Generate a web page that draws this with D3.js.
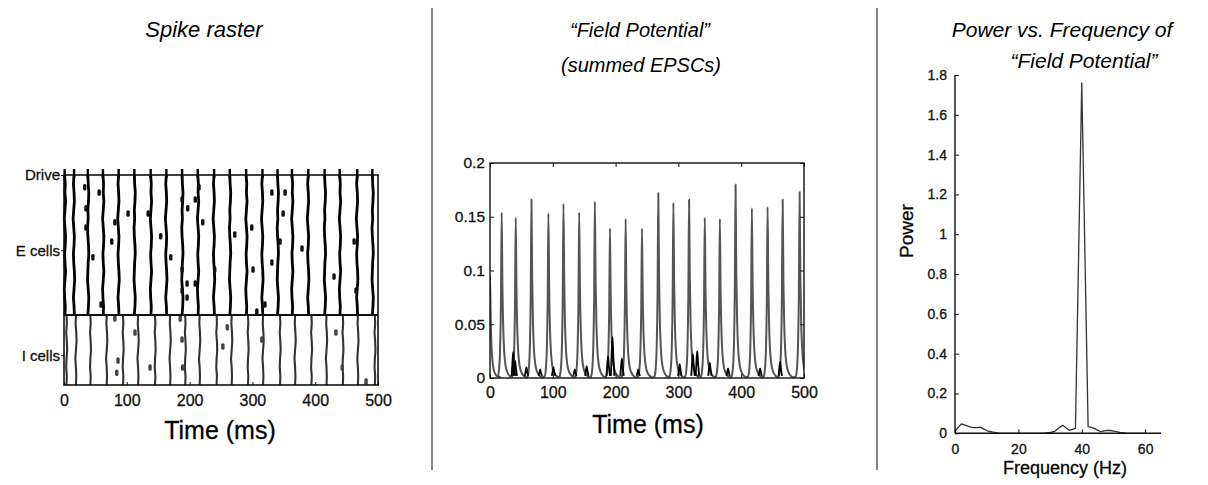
<!DOCTYPE html>
<html>
<head>
<meta charset="utf-8">
<script src="https://cdn.jsdelivr.net/npm/d3@7"></script>
<style>
  body { margin: 0; background: #fff; }
  text { font-family: "Liberation Sans", Arial, Helvetica, sans-serif; }
  .tick text, .lab { stroke: #111; stroke-width: 0.3px; }
</style>
</head>
<body>
<svg id="fig" width="1208" height="485"></svg>
<script>
// ---- raster data (ms, cell row) ----
const eVolleys = [1, 16, 38, 62, 87, 112, 138, 163, 188, 213, 239, 264, 290, 316, 340, 363, 389, 415, 439, 467, 491]
const iVolleys = [4, 19, 42, 68, 94, 118, 145, 169, 193, 216, 243, 267, 293, 317, 344, 368, 394, 418, 444, 468, 495]
// jitter of each volley down the E rows (ms, every 5 rows) and I rows
const eWiggles = [
  [0, 1, 0.5, 1.5, 0.5, -0.5, 0.5, 1.5, 1, 0, 0.5, 1.5, 0.5, -0.5, 0, 1, 0.5],
  [0, -1, 0, 0.5, -0.5, -1.5, -0.5, 0.5, 0, -1, -0.5, 0.5, 1, 0, -1, 0, 0.5],
  [0, 0.5, 1.5, 1, 0, 0.5, -0.5, 0, 1, 1.5, 0.5, 0, -0.5, 0.5, 1.5, 1, 0]
]
const iWiggles = [
  [0, 0.5, -0.5, 0.5, 1, 0, -0.5, 0.5, 0],
  [0, -0.5, 0.5, 1, 0, -1, 0, 0.5, 0]
]
const eExtra = [[33, 7], [56, 10], [35, 19], [81, 27], [102, 22], [35, 30], [76, 38], [46, 47], [59, 74],
  [134, 22], [154, 35], [170, 47], [188, 14], [197, 19], [209, 14], [215, 7], [221, 27], [188, 54],
  [196, 62], [188, 66], [196, 70], [209, 62], [240, 54], [272, 34], [299, 30], [301, 54], [307, 78],
  [320, 74], [331, 10], [352, 10], [349, 22], [344, 38], [331, 50], [379, 42], [430, 58], [462, 38], [465, 66]]
const iExtra = [[81, 82], [113, 90], [86, 106], [84, 113], [137, 110], [188, 94], [189, 110], [185, 82],
  [253, 98], [260, 87], [315, 94], [433, 90], [443, 110], [481, 118]]
const rowTicks = [0, 43, 103]
const rowLabels = ["Drive", "E cells", "I cells"]
const timeTicks = [0, 100, 200, 300, 400, 500]

// ---- field potential data ----
const fpPeaks = [[0, 0.095], [18.6, 0.154], [41, 0.149], [66, 0.166], [93, 0.153], [117, 0.162], [142, 0.154],
  [167, 0.164], [191, 0.139], [216, 0.148], [242, 0.139], [268, 0.172], [292, 0.163], [317, 0.166],
  [342, 0.149], [366, 0.148], [391, 0.180], [417, 0.158], [442, 0.159], [466, 0.166], [493, 0.173]]
// one summed-EPSC wave: [ms from peak, fraction of peak]
const epscShape = [[-6, 0.01], [-4, 0.06], [-2.5, 0.18], [-1.2, 0.45], [0, 1], [1.2, 0.55], [2.5, 0.3],
  [4, 0.16], [6, 0.08], [9, 0.035], [13, 0.012], [17, 0.004]]
const fpBumps = [[37, 0.024], [40, 0.016], [58, 0.01], [80, 0.008], [101, 0.01], [135, 0.008], [154, 0.011],
  [188, 0.02], [195, 0.038], [210, 0.018], [236, 0.008], [302, 0.013], [323, 0.022], [330, 0.025],
  [350, 0.014], [379, 0.009], [430, 0.009], [462, 0.015]]
const fpTicks = [0, 0.05, 0.1, 0.15, 0.2]

// ---- power spectrum data ----
const spectrum = [[0, 0.01], [1, 0.03], [2, 0.047], [3, 0.042], [4, 0.036], [5, 0.031], [6, 0.028], [7, 0.029],
  [8, 0.031], [9, 0.022], [10, 0.014], [11, 0.009], [12, 0.006], [13, 0.003], [14, 0.001], [16, 0],
  [24, 0], [28, 0.001], [30, 0.004], [31.5, 0.01], [33, 0.03], [34, 0.04], [35, 0.028], [36, 0.015],
  [37, 0.02], [38, 0.025], [40, 1.76], [42, 0.033], [43, 0.03], [44, 0.025], [45, 0.016], [46, 0.008],
  [47, 0.012], [48, 0.015], [49, 0.014], [50, 0.011], [51, 0.008], [52, 0.004], [54, 0.001], [56, 0], [60, 0]]
const freqTicks = [0, 20, 40, 60]
const powerTicks = [0, 0.2, 0.4, 0.6, 0.8, 1, 1.2, 1.4, 1.6, 1.8]

const svg = d3.select("#fig")

function styleAxis(g, size) {
  g.select(".domain").remove()
  g.selectAll(".tick line").attr("stroke", "#111").attr("stroke-width", 1)
  g.selectAll(".tick text").attr("fill", "#111").style("font-size", size + "px")
}

// titles and separators
const titles = [
  { x: 204, y: 37, s: 22, t: "Spike raster" },
  { x: 640, y: 37, s: 20, t: "\u201CField Potential\u201D" },
  { x: 641, y: 72, s: 20, t: "(summed EPSCs)" },
  { x: 1062, y: 37, s: 21, t: "Power vs. Frequency of" },
  { x: 1084, y: 68, s: 21, t: "\u201CField Potential\u201D" }
]
svg.selectAll("text.title").data(titles).enter().append("text")
  .attr("class", "title")
  .attr("x", d => d.x).attr("y", d => d.y)
  .attr("text-anchor", "middle")
  .style("font-style", "italic").style("font-size", d => d.s + "px")
  .text(d => d.t)

svg.selectAll("line.sep").data([432, 877]).enter().append("line")
  .attr("x1", d => d).attr("x2", d => d).attr("y1", 8).attr("y2", 470)
  .attr("stroke", "#333").attr("stroke-width", 1.2)

// ===== spike raster =====
const rx = d3.scaleLinear().domain([0, 500]).range([64, 378])
const ry = d3.scaleLinear().domain([0, 120]).range([175, 385])
const raster = svg.append("g")

const eLine = d3.line().x(d => rx(d[0])).y(d => ry(d[1]))
eVolleys.forEach((t, i) => {
  const w = eWiggles[i % 3]
  raster.append("path")
    .attr("d", eLine(w.map((o, k) => [t + o, k * 5])))
    .attr("fill", "none").attr("stroke", "#000").attr("stroke-width", 2.8)
})
iVolleys.forEach((t, i) => {
  const w = iWiggles[i % 2]
  raster.append("path")
    .attr("d", eLine(w.map((o, k) => [t + o, 80 + k * 5])))
    .attr("fill", "none").attr("stroke", "#333").attr("stroke-width", 2.1)
})
// drive spikes
raster.selectAll("line.drive").data(eVolleys).enter().append("line")
  .attr("x1", d => rx(d)).attr("x2", d => rx(d))
  .attr("y1", ry(0) - 6).attr("y2", ry(0) + 3)
  .attr("stroke", "#000").attr("stroke-width", 2.4)

raster.selectAll("rect.es").data(eExtra.concat(iExtra)).enter().append("rect")
  .attr("x", d => rx(d[0]) - 1.7).attr("y", d => ry(d[1]) - 3.2)
  .attr("width", 3.4).attr("height", 6.4).attr("rx", 1.5)
  .attr("fill", (d, i) => i < eExtra.length ? "#111" : "#444")

// frame
raster.append("rect")
  .attr("x", rx(0)).attr("y", ry(0)).attr("width", rx(500) - rx(0)).attr("height", ry(120) - ry(0))
  .attr("fill", "none").attr("stroke", "#111").attr("stroke-width", 1.6)
raster.append("line")
  .attr("x1", rx(0)).attr("x2", rx(500)).attr("y1", ry(80)).attr("y2", ry(80))
  .attr("stroke", "#111").attr("stroke-width", 2)

raster.append("g").attr("transform", `translate(0,${ry(120)})`)
  .call(d3.axisBottom(rx).tickValues(timeTicks).tickSize(-3).tickPadding(9.5))
  .call(g => styleAxis(g, 16))
raster.append("g").attr("transform", `translate(${rx(0)},0)`)
  .call(d3.axisLeft(ry).tickValues(rowTicks).tickFormat((d, i) => rowLabels[i]).tickSize(3).tickPadding(1))
  .call(g => styleAxis(g, 15))
raster.append("text").attr("class", "lab").attr("x", 220).attr("y", 439).attr("text-anchor", "middle")
  .style("font-size", "25px").text("Time (ms)")

// ===== field potential =====
const fx = d3.scaleLinear().domain([0, 500]).range([490, 804])
const fy = d3.scaleLinear().domain([0, 0.2]).range([378, 163])
const fp = svg.append("g")
fp.append("clipPath").attr("id", "fpclip").append("rect")
  .attr("x", fx(0)).attr("y", fy(0.2)).attr("width", fx(500) - fx(0)).attr("height", fy(0) - fy(0.2))

const tracePts = []
fpPeaks.forEach(([t, h]) => epscShape.forEach(([dt, f]) => tracePts.push([t + dt, h * f])))
const fLine = d3.line().x(d => fx(d[0])).y(d => fy(d[1])).curve(d3.curveMonotoneX)
fp.append("path").attr("d", fLine(tracePts)).attr("clip-path", "url(#fpclip)")
  .attr("fill", "none").attr("stroke", "#555").attr("stroke-width", 2).attr("stroke-linejoin", "round")
fpBumps.forEach(([t, v]) => {
  fp.append("path")
    .attr("d", fLine([[t - 2.5, 0.002], [t - 1, v * 0.7], [t, v], [t + 1.2, v * 0.6], [t + 3, 0.002]]))
    .attr("fill", "none").attr("stroke", "#000").attr("stroke-width", 1.8)
})

fp.append("rect")
  .attr("x", fx(0)).attr("y", fy(0.2)).attr("width", fx(500) - fx(0)).attr("height", fy(0) - fy(0.2))
  .attr("fill", "none").attr("stroke", "#111").attr("stroke-width", 1.4)
fp.append("g").attr("transform", `translate(0,${fy(0)})`)
  .call(d3.axisBottom(fx).tickValues(timeTicks).tickSize(-4).tickPadding(8.5))
  .call(g => styleAxis(g, 16))
fp.append("g").attr("transform", `translate(0,${fy(0.2)})`)
  .call(d3.axisTop(fx).tickValues(timeTicks).tickSize(-4).tickFormat(""))
  .call(g => styleAxis(g, 16))
fp.append("g").attr("transform", `translate(${fx(0)},0)`)
  .call(d3.axisLeft(fy).tickValues(fpTicks).tickFormat(d3.format("~g")).tickSize(-4).tickPadding(5))
  .call(g => styleAxis(g, 15.5))
fp.append("g").attr("transform", `translate(${fx(500)},0)`)
  .call(d3.axisRight(fy).tickValues(fpTicks).tickSize(-4).tickFormat(""))
  .call(g => styleAxis(g, 15))
fp.append("text").attr("class", "lab").attr("x", 648).attr("y", 433).attr("text-anchor", "middle")
  .style("font-size", "25px").text("Time (ms)")

// ===== power spectrum =====
const px = d3.scaleLinear().domain([0, 65]).range([955, 1161])
const py = d3.scaleLinear().domain([0, 1.8]).range([433.3, 75])
const ps = svg.append("g")
ps.append("path").attr("d", d3.line().x(d => px(d[0])).y(d => py(d[1]))(spectrum))
  .attr("fill", "none").attr("stroke", "#333").attr("stroke-width", 1.3).attr("stroke-linejoin", "round")
ps.append("line").attr("x1", px(0)).attr("x2", px(65)).attr("y1", py(0)).attr("y2", py(0))
  .attr("stroke", "#111").attr("stroke-width", 1.4)
ps.append("line").attr("x1", px(0)).attr("x2", px(0)).attr("y1", py(0)).attr("y2", py(1.8))
  .attr("stroke", "#111").attr("stroke-width", 1.4)
ps.append("g").attr("transform", `translate(0,${py(0)})`)
  .call(d3.axisBottom(px).tickValues(freqTicks).tickSize(-4).tickPadding(11))
  .call(g => styleAxis(g, 14))
ps.append("g").attr("transform", `translate(${px(0)},0)`)
  .call(d3.axisLeft(py).tickValues(powerTicks).tickFormat(d3.format("~g")).tickSize(-4).tickPadding(8))
  .call(g => styleAxis(g, 14))
ps.append("text").attr("class", "lab").attr("x", 1065).attr("y", 474).attr("text-anchor", "middle")
  .style("font-size", "18px").text("Frequency (Hz)")
ps.append("text").attr("class", "lab").attr("transform", "translate(913,231) rotate(-90)").attr("text-anchor", "middle")
  .style("font-size", "19px").text("Power")
</script>
</body>
</html>
